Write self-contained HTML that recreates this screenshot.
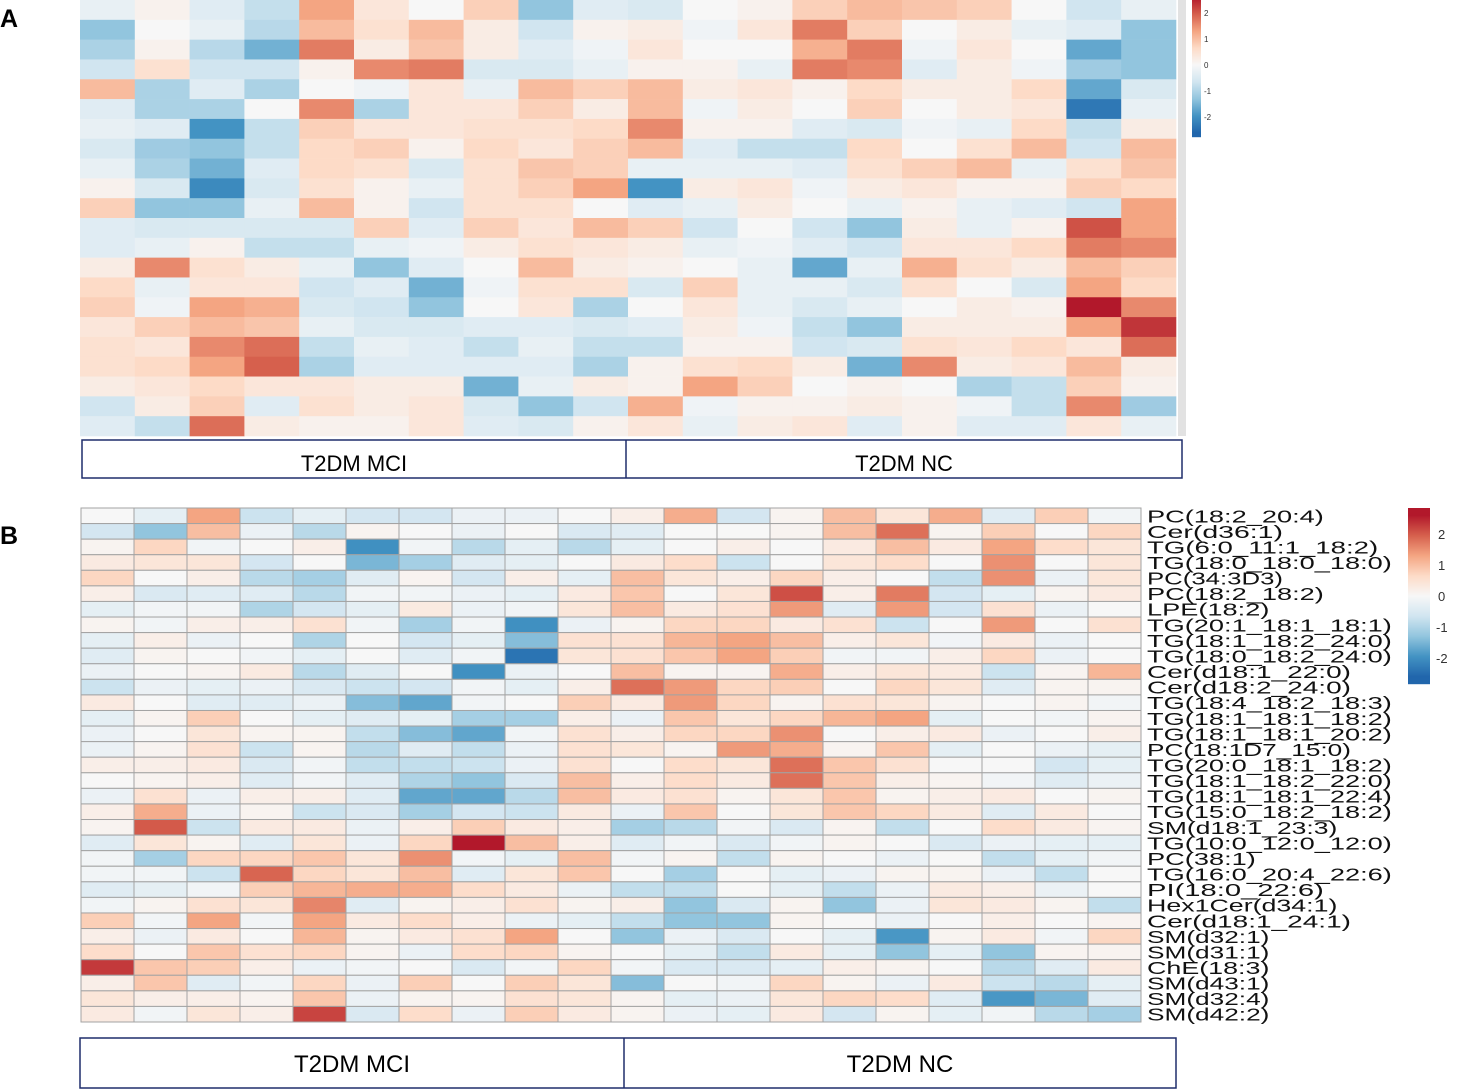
<!DOCTYPE html>
<html><head><meta charset="utf-8"><style>
html,body{margin:0;padding:0;background:#fff;}
svg{display:block;font-family:"Liberation Sans",sans-serif;}
</style></head><body>
<svg id="fig" width="1458" height="1090" viewBox="0 0 1458 1090" xmlns="http://www.w3.org/2000/svg">
<text x="0" y="27" font-size="25" font-weight="bold">A</text>
<text x="0" y="544" font-size="25" font-weight="bold">B</text>
<g id="heatA"></g>
<g id="heatB"></g>
<g id="rowlabels"></g>
<g id="legA"></g>
<g id="legB"></g>
<g>
<rect x="82" y="440" width="1100" height="38" fill="none" stroke="#1f2d6b" stroke-width="1.5"/>
<line x1="626" y1="440" x2="626" y2="478" stroke="#1f2d6b" stroke-width="1.5"/>
<text x="354" y="471" font-size="22" text-anchor="middle">T2DM MCI</text>
<text x="904" y="471" font-size="22" text-anchor="middle">T2DM NC</text>
</g>
<g>
<rect x="80" y="1038" width="1096" height="50" fill="none" stroke="#1f2d6b" stroke-width="1.5"/>
<line x1="624" y1="1038" x2="624" y2="1088" stroke="#1f2d6b" stroke-width="1.5"/>
<text x="352" y="1072" font-size="24" text-anchor="middle">T2DM MCI</text>
<text x="900" y="1072" font-size="24" text-anchor="middle">T2DM NC</text>
</g>
</svg>
<script>
// ---------- Panel A data: 20 samples x 22 row bands (each array = one sample column) ----------
const aCol0=[-0.2,-1.0,-0.8,-0.5,0.8,-0.3,-0.2,-0.4,-0.2,0.1,0.6,-0.3,-0.3,0.2,0.5,0.6,0.3,0.4,0.4,0.2,-0.5,-0.3];
const aCol1=[0.1,0,0.1,0.4,-0.8,-0.8,-0.3,-0.9,-0.8,-0.4,-1.0,-0.4,-0.2,1.2,-0.2,-0.1,0.6,0.3,0.5,0.3,0.2,-0.6];
const aCol2=[-0.3,-0.2,-0.7,-0.5,-0.3,-0.8,-1.5,-1.0,-1.2,-1.6,-1.0,-0.4,0.1,0.4,0.3,1.0,0.8,1.2,1.0,0.5,0.6,1.4];
const aCol3=[-0.6,-0.7,-1.2,-0.5,-0.8,0,-0.6,-0.6,-0.3,-0.4,-0.2,-0.4,-0.6,0.2,0.3,0.9,0.7,1.4,1.5,0.3,-0.3,0.2];
const aCol4=[1.0,0.8,1.3,0.1,0,1.2,0.6,0.5,0.5,0.4,0.8,-0.4,-0.6,-0.2,-0.5,-0.4,-0.2,-0.6,-0.8,0.3,0.4,0.1];
const aCol5=[0.3,0.4,0.2,1.2,-0.1,-0.8,0.3,0.6,0.4,0.1,0.1,0.6,-0.2,-1.0,-0.3,-0.5,-0.4,-0.2,-0.3,0.2,0.2,0.1];
const aCol6=[0,0.8,0.7,1.3,0.3,0.3,0.3,0.1,-0.4,-0.2,-0.5,-0.3,-0.1,-0.3,-1.2,-1.0,-0.4,-0.3,-0.3,0.2,0.3,0.3];
const aCol7=[0.6,0.2,0.2,-0.4,-0.2,0.3,0.4,0.5,0.4,0.4,0.4,0.6,0.2,0,-0.1,0,-0.3,-0.6,-0.3,-1.2,-0.4,-0.3];
const aCol8=[-1.0,-0.5,-0.3,-0.4,0.8,0.6,0.4,0.3,0.7,0.6,0.4,0.3,0.4,0.8,0.4,0.3,-0.3,-0.2,-0.3,-0.2,-1.0,-0.4];
const aCol9=[-0.3,0.1,-0.1,-0.2,0.6,0.2,0.5,0.6,0.6,1.0,0,0.8,0.3,0.2,0.4,-0.8,-0.4,-0.6,-0.8,0.2,-0.5,0.1];
const aCol10=[-0.4,0.2,0.3,0.1,0.8,0.8,1.2,0.8,-0.2,-1.5,-0.3,0.6,0.2,0.1,-0.4,0,-0.3,-0.6,0.1,0.1,0.9,0.3];
const aCol11=[0,-0.1,0,0.1,0.2,-0.1,0.1,-0.3,-0.2,0.2,-0.2,-0.5,-0.2,0,0.6,0.3,0.2,0.1,0.4,1.0,-0.1,-0.2];
const aCol12=[0.1,0.3,0,-0.2,0.3,0.2,0.1,-0.6,-0.2,0.3,0.2,0,-0.1,-0.2,-0.2,-0.2,-0.1,0.1,0.5,0.6,0.1,0.2];
const aCol13=[0.6,1.3,0.9,1.3,0.1,0,-0.3,-0.6,-0.3,-0.1,0,-0.5,-0.3,-1.3,-0.2,-0.4,-0.6,-0.5,0.2,0,0.1,0.3];
const aCol14=[0.8,0.6,1.3,1.2,0.5,0.6,-0.4,0.5,0.4,0.2,-0.2,-1.0,-0.5,-0.2,-0.4,-0.2,-1.0,-0.4,-1.2,0.1,0.2,-0.3];
const aCol15=[0.7,0,-0.1,-0.3,0.2,0,-0.1,0,0.6,0.3,0.1,0.2,0.3,0.9,0.4,0,0.2,0.4,1.2,0,0.1,0.1];
const aCol16=[0.6,0.2,0.3,0.2,0.2,0.2,-0.2,0.4,0.8,0.1,-0.2,-0.2,0.3,0.4,0,0.2,0.2,0.3,0.2,-0.8,-0.1,-0.3];
const aCol17=[0,-0.2,0,-0.1,0.5,0.3,0.5,0.8,-0.2,0.1,-0.3,0.1,0.5,0.2,-0.4,0.1,0.2,0.5,0.3,-0.6,-0.6,-0.3];
const aCol18=[-0.5,-0.3,-1.3,-0.9,-1.3,-1.8,-0.6,-0.5,0.4,0.6,-0.5,1.6,1.3,0.8,1.0,2.0,1.0,0.3,0.8,0.6,1.2,0.3];
const aCol19=[-0.2,-1.0,-1.0,-1.0,-0.4,-0.2,0.2,0.8,0.7,0.5,1.0,1.0,1.2,0.6,0.5,1.2,1.8,1.4,0.2,0.1,-0.9,-0.2];
const aColumns=[aCol0,aCol1,aCol2,aCol3,aCol4,aCol5,aCol6,aCol7,aCol8,aCol9,aCol10,aCol11,aCol12,aCol13,aCol14,aCol15,aCol16,aCol17,aCol18,aCol19];

// ---------- Panel B data: 33 lipids x 20 samples ----------
const bLipids=["PC(18:2_20:4)","Cer(d36:1)","TG(6:0_11:1_18:2)","TG(18:0_18:0_18:0)","PC(34:3D3)","PC(18:2_18:2)","LPE(18:2)","TG(20:1_18:1_18:1)","TG(18:1_18:2_24:0)","TG(18:0_18:2_24:0)","Cer(d18:1_22:0)","Cer(d18:2_24:0)","TG(18:4_18:2_18:3)","TG(18:1_18:1_18:2)","TG(18:1_18:1_20:2)","PC(18:1D7_15:0)","TG(20:0_18:1_18:2)","TG(18:1_18:2_22:0)","TG(18:1_18:1_22:4)","TG(15:0_18:2_18:2)","SM(d18:1_23:3)","TG(10:0_12:0_12:0)","PC(38:1)","TG(16:0_20:4_22:6)","PI(18:0_22:6)","Hex1Cer(d34:1)","Cer(d18:1_24:1)","SM(d32:1)","SM(d31:1)","ChE(18:3)","SM(d43:1)","SM(d32:4)","SM(d42:2)"];
const bRow0=[0,-0.3,1.3,-0.7,-0.3,-0.6,-0.6,-0.2,-0.2,0,0.2,1.2,-0.6,0.1,1.0,0.4,1.2,-0.4,0.8,-0.1];
const bRow1=[-0.6,-1.3,1.0,-0.2,-0.9,0.1,0,-0.2,0,-0.5,-0.4,0,0,0.1,1.0,1.8,0.1,0.8,0,0.7];
const bRow2=[0.1,0.7,-0.1,0,0.2,-2.0,-0.1,-0.9,-0.3,-0.9,-0.3,0,0.2,0,0.3,1.0,0.3,1.3,0.6,0.4];
const bRow3=[0.3,0.4,0.4,-0.6,0,-1.5,-1.1,-0.4,-0.3,0,0.3,0.6,-0.7,0,0.4,0.6,0,1.5,0,0.4];
const bRow4=[0.7,0,0.2,-0.9,-1.1,-0.4,0.1,-0.6,0.2,-0.3,1.0,0.4,0.2,0.7,0.2,0,-0.8,1.5,-0.2,0.4];
const bRow5=[0.2,-0.5,-0.4,-0.4,-0.9,-0.1,-0.1,-0.2,-0.3,0.3,0.9,0,0.4,2.1,0.2,1.7,-0.6,-0.3,0.1,0.3];
const bRow6=[-0.3,-0.1,-0.1,-1.0,-0.6,-0.3,0.3,-0.2,-0.1,0.4,1.0,0.3,0.5,1.4,-0.4,1.4,-0.6,0.5,-0.2,0];
const bRow7=[0.1,-0.1,0.2,0.2,0.5,-0.1,-1.1,-0.1,-2.0,-0.2,0.1,0.7,0.7,0.3,0.5,-0.7,0,1.4,0,0.5];
const bRow8=[-0.3,0.2,-0.2,0,-1.0,0,-0.6,-0.3,-1.4,0.5,0.5,1.1,1.3,1.0,0.2,0.4,-0.1,0.3,-0.2,0];
const bRow9=[-0.4,0.1,0,-0.1,-0.3,0,-0.4,-0.1,-2.4,0.4,0.5,0.9,1.3,0.8,-0.1,-0.1,0.2,0.7,-0.2,0];
const bRow10=[-0.2,0,0.1,0.3,-0.9,-0.4,0,-2.0,-0.2,0,1.0,0.1,0.1,1.2,0.2,0.4,0.3,-0.7,0.1,1.1];
const bRow11=[-0.7,-0.2,-0.3,-0.2,-0.5,-0.7,-0.6,-0.1,-0.3,0.2,1.8,1.4,0.7,0.8,0,0.7,0.4,-0.4,0.1,0.1];
const bRow12=[0.3,0,-0.4,-0.4,-0.2,-1.4,-1.7,-0.1,0,0.8,0.3,1.4,0.7,0.1,0.5,0.4,0.1,0,0.1,-0.1];
const bRow13=[-0.3,0.1,0.8,0,-0.3,-0.4,-0.3,-1.1,-1.1,0.2,-0.2,0.9,0.4,0.7,1.1,1.3,-0.3,0,-0.1,0.1];
const bRow14=[-0.2,0,0.4,0.1,0.1,-0.8,-1.4,-1.7,-0.1,0.5,0.2,0.7,0.7,1.5,0,0.2,0.3,-0.2,0,0.2];
const bRow15=[-0.2,0.1,0.5,-0.7,0.1,-0.9,-0.4,-0.8,-0.2,0.5,0.4,0.1,1.4,1.2,0.1,0.9,-0.3,0,-0.2,-0.3];
const bRow16=[0.2,0.2,0.3,-0.5,-0.1,-0.8,-0.8,-0.7,-0.2,0.5,0,0.6,0.4,1.8,0.9,0.5,0,0,-0.6,-0.3];
const bRow17=[0,0.1,0.2,-0.4,-0.1,-0.4,-1.0,-1.3,-0.5,1.0,0.2,0.6,0.3,1.8,0.9,0.2,0.1,-0.1,-0.4,-0.2];
const bRow18=[-0.2,0.5,-0.2,0.2,0.2,-0.4,-1.7,-1.7,-0.9,1.0,0.3,0.5,0.1,0.4,0.9,0.1,0.2,0.3,0,0.1];
const bRow19=[0.2,1.2,-0.2,0.1,-0.7,-0.5,-1.1,-0.6,-0.7,0.3,-0.2,0.9,0,0.4,0.9,0.7,0.3,-0.4,0.3,0];
const bRow20=[0.1,2.0,-0.7,0.3,0.3,-0.2,0.2,0.8,0.3,0.2,-1.1,-0.9,-0.1,-0.5,0.1,-0.8,0,0.6,0.3,0.1];
const bRow21=[-0.4,0.4,0.1,-0.4,0.4,-0.2,0.7,2.6,1.0,0.2,-0.4,-0.1,-0.5,-0.1,0.1,0,-0.5,-0.2,-0.3,-0.3];
const bRow22=[-0.1,-1.1,0.7,0.7,0.9,0.4,1.5,-0.1,-0.3,1.0,-0.1,0.1,-0.8,0.1,0,-0.2,0,-0.8,-0.3,-0.1];
const bRow23=[-0.1,-0.1,-0.7,1.9,0.7,0.4,1.0,-0.4,0.4,0.9,0,-1.1,0,-0.3,-0.2,0.1,0.1,-0.2,-0.8,0];
const bRow24=[-0.4,-0.3,-0.1,0.8,1.1,1.2,1.2,0.6,0.3,-0.2,-0.8,-0.8,0,-0.3,-0.8,-0.2,0.3,0.2,-0.2,0];
const bRow25=[-0.1,0.1,0.5,0.4,1.6,-0.4,0.1,0.2,0.5,0.1,0.2,-1.3,-0.5,0.1,-1.3,-0.2,0.4,0.3,0.1,-0.8];
const bRow26=[0.8,-0.1,1.3,-0.1,1.3,0.3,0.6,0.2,-0.2,-0.3,-0.8,-1.3,-1.3,0.1,0,-0.2,0,0.2,0,0.1];
const bRow27=[0.2,-0.2,0.3,0,1.1,0.1,0.3,0.5,1.3,0,-1.3,-0.2,-0.5,0,-0.3,-1.9,0.1,0.3,-0.1,0.7];
const bRow28=[0.6,0,0.9,0.5,0.7,0.1,-0.2,0.6,0.7,0.1,0,-0.3,-0.8,0.3,-0.3,-1.3,-0.3,-1.3,0.1,0.1];
const bRow29=[2.3,0.9,0.8,0.2,-0.2,-0.1,0,-0.5,-0.1,0.7,-0.1,-0.5,-0.5,-0.3,0.2,0.1,0,-0.9,-0.4,0.3];
const bRow30=[0.2,0.9,-0.4,-0.1,0.7,-0.2,0.8,0,0.8,0.4,-1.4,0,-0.1,0.7,0.1,-0.2,0.3,-0.7,-0.9,-0.3];
const bRow31=[0.4,0.2,0.2,0.1,0.9,-0.2,0.1,0.1,0.5,0.4,0.1,-0.3,-0.2,0.4,0.7,0.6,-0.4,-1.9,-1.5,-0.4];
const bRow32=[0.3,-0.1,0.4,0.2,2.2,-0.5,0.6,-0.2,0.8,0.3,0.1,-0.2,-0.3,0.3,-0.6,0.1,-0.3,-0.1,-0.9,-1.1];
const bRows=[bRow0,bRow1,bRow2,bRow3,bRow4,bRow5,bRow6,bRow7,bRow8,bRow9,bRow10,bRow11,bRow12,bRow13,bRow14,bRow15,bRow16,bRow17,bRow18,bRow19,bRow20,bRow21,bRow22,bRow23,bRow24,bRow25,bRow26,bRow27,bRow28,bRow29,bRow30,bRow31,bRow32];
const legATicks=[2,1,0,-1,-2];
const legBTicks=[2,1,0,-1,-2];

// ---------- rendering ----------
const NS="http://www.w3.org/2000/svg";
const stops=["#2166ac","#4393c3","#92c5de","#d1e5f0","#f7f7f7","#fddbc7","#f4a582","#d6604d","#b2182b"];
const VMIN=-2.6,VMAX=2.6;
const A_GAIN=1.3; // band averages look paler than the striped original
function hex(h){return [1,3,5].map(i=>parseInt(h.substr(i,2),16));}
function color(v){
  let t=(v-VMIN)/(VMAX-VMIN);t=Math.max(0,Math.min(1,t));
  const p=t*(stops.length-1);const i=Math.min(stops.length-2,Math.floor(p));const f=p-i;
  const a=hex(stops[i]),b=hex(stops[i+1]);
  return "rgb("+a.map((c,k)=>Math.round(c+(b[k]-c)*f)).join(",")+")";
}
function mk(tag,attrs,parent){const e=document.createElementNS(NS,tag);for(const k in attrs)e.setAttribute(k,attrs[k]);parent.appendChild(e);return e;}

// Panel A
const gA=document.getElementById("heatA");
const A={x0:80,x1:1176,y0:0,y1:436};
const nA=aColumns[0].length;
const xA=c=>A.x0+c*(A.x1-A.x0)/aColumns.length;
const yA=r=>A.y0+r*(A.y1-A.y0)/nA;
aColumns.forEach((col,c)=>{
  col.forEach((v,r)=>{
    const e=mk("rect",{x:xA(c),y:yA(r),width:xA(c+1)-xA(c)+0.3,height:yA(r+1)-yA(r)+0.3,fill:color(v*A_GAIN)},gA);
    
    
  });
});
const tickBand=mk("rect",{x:1178,y:0,width:8,height:436,fill:"#e2e2e2"},gA);



// Panel A legend
const lA=document.getElementById("legA");
const LA={x:1192,w:9,top:0,bot:137,vTop:2.5,vBot:-2.77};
const yLA=v=>LA.top+(LA.vTop-v)/(LA.vTop-LA.vBot)*(LA.bot-LA.top);
for(let i=0;i<137;i++){
  const v=LA.vTop-(i+0.5)/137*(LA.vTop-LA.vBot);
  const e=mk("rect",{x:LA.x,y:LA.top+i,width:LA.w,height:1.2,fill:color(v)},lA);
  
  
}
legATicks.forEach(t=>{
  const e=mk("text",{x:1204,y:yLA(t)+3,"font-size":8,fill:"#333"},lA);e.textContent=t;
  
  
});

// Panel B
const gB=document.getElementById("heatB");
const B={x0:81,x1:1141,y0:508,y1:1022};
const nCols=bRows[0].length;
const xB=c=>B.x0+c*(B.x1-B.x0)/nCols;
const yB=r=>B.y0+r*(B.y1-B.y0)/bRows.length;
bRows.forEach((row,r)=>{
  row.forEach((v,c)=>{
    const e=mk("rect",{x:xB(c),y:yB(r),width:xB(c+1)-xB(c),height:yB(r+1)-yB(r),fill:color(v),stroke:"#a3a3a3","stroke-width":1},gB);
    
    
  });
});
const gL=document.getElementById("rowlabels");
bLipids.forEach((name,r)=>{
  const cy=(yB(r)+yB(r+1))/2;
  const e=mk("text",{x:1147,y:cy+6.5,"font-size":17.5,textLength:name.length*13.6,lengthAdjust:"spacingAndGlyphs",fill:"#111"},gL);
  e.textContent=name;
  
  
});

// Panel B legend
const lB=document.getElementById("legB");
const LB={x:1408,w:22,top:508,bot:684,zero:596,unit:31};
const yLB=v=>LB.zero-v*LB.unit;
for(let y=LB.top;y<LB.bot;y++){
  const v=(LB.zero-(y+0.5))/LB.unit;
  const e=mk("rect",{x:LB.x,y:y,width:LB.w,height:1.2,fill:color(v)},lB);
  
  
}
legBTicks.forEach(t=>{
  const e=mk("text",{x:t<0?1436:1438,y:yLB(t)+5,"font-size":13,fill:"#333"},lB);e.textContent=t;
  
  
});
</script>
</body></html>
